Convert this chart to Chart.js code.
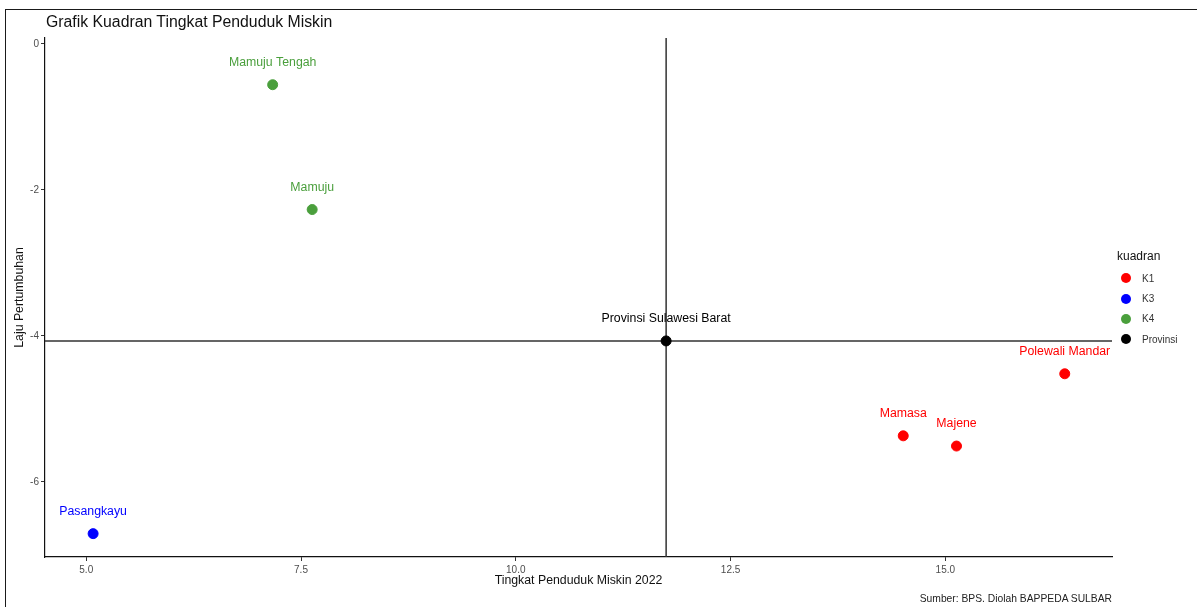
<!DOCTYPE html>
<html>
<head>
<meta charset="utf-8">
<script src="https://cdn.jsdelivr.net/npm/chart.js@4"></script>
<style>
    body { margin: 0; background: #fff; font-family: "Liberation Sans", Arial, sans-serif; }
    #wrap { position: relative; width: 1197px; height: 607px; overflow: hidden; }
    #frame { position: absolute; left: 5px; top: 9px; width: 1200px; height: 610px;
             border-top: 1.5px solid #1a1a1a; border-left: 1.5px solid #1a1a1a; pointer-events: none; }
    #judul { position: absolute; left: 46px; top: 13px; font-size: 15.8px; color: #111; }
    #sumber { position: absolute; right: 85px; top: 593px; font-size: 10.3px; color: #222; }
    #legenda { position: absolute; left: 1117px; top: 249px; font-size: 10px; color: #333; }
    #legenda .judul { font-size: 12px; color: #111; margin-bottom: 5px; }
    #legenda .item { height: 20.4px; display: flex; align-items: center; }
    #legenda .dot { width: 10px; height: 10px; border-radius: 50%; margin: 0 11px 0 4px; }
</style>
</head>
<body>
<div id="wrap">
    <canvas id="kuadranChart" width="1197" height="607"></canvas>
    <div id="frame"></div>
    <div id="judul">Grafik Kuadran Tingkat Penduduk Miskin</div>
    <div id="sumber">Sumber: BPS. Diolah BAPPEDA SULBAR</div>
    <div id="legenda"></div>
</div>
<script>
// data
const wilayah = ['Mamuju Tengah', 'Mamuju', 'Provinsi Sulawesi Barat', 'Polewali Mandar', 'Mamasa', 'Majene', 'Pasangkayu'];
const miskin2022 = [7.17, 7.63, 11.75, 16.39, 14.51, 15.13, 5.08];
const lajuTumbuh = [-0.56, -2.27, -4.07, -4.52, -5.37, -5.51, -6.71];
const kuadranWilayah = ['K4', 'K4', 'Provinsi', 'K1', 'K1', 'K1', 'K3'];

const kelompok = ['K1', 'K3', 'K4', 'Provinsi'];
const warnaKelompok = ['#ff0000', '#0000ff', '#4a9f3c', '#000000'];

const xTicks = [5, 7.5, 10, 12.5, 15];
const yTicks = [0, -2, -4, -6];

const FONT = '"Liberation Sans", Arial, sans-serif';

// garis kuadran lewat titik provinsi
const idxProv = kuadranWilayah.indexOf('Provinsi');
const garisX = miskin2022[idxProv];
const garisY = lajuTumbuh[idxProv];

const datasets = kelompok.map((k, i) => ({
    label: k,
    data: wilayah
        .map((w, j) => ({ x: miskin2022[j], y: lajuTumbuh[j], nama: w, k: kuadranWilayah[j] }))
        .filter(p => p.k === k),
    backgroundColor: warnaKelompok[i],
    borderColor: warnaKelompok[i],
    pointRadius: 5,
    pointHoverRadius: 5
}));

// legenda
const legenda = document.getElementById('legenda');
legenda.innerHTML = '<div class="judul">kuadran</div>' + kelompok.map((k, i) =>
    `<div class="item"><span class="dot" style="background:${warnaKelompok[i]}"></span>${k}</div>`).join('');

const garisKuadran = {
    id: 'garisKuadran',
    beforeDatasetsDraw(chart) {
        const { ctx, chartArea, scales } = chart;
        const px = scales.x.getPixelForValue(garisX);
        const py = scales.y.getPixelForValue(garisY);
        ctx.save();
        ctx.strokeStyle = '#333';
        ctx.lineWidth = 1.5;
        ctx.beginPath();
        ctx.moveTo(px, chartArea.top);
        ctx.lineTo(px, chartArea.bottom);
        ctx.moveTo(chartArea.left, py);
        ctx.lineTo(chartArea.right, py);
        ctx.stroke();
        ctx.restore();
    }
};

const labelTitik = {
    id: 'labelTitik',
    afterDatasetsDraw(chart) {
        const ctx = chart.ctx;
        ctx.save();
        ctx.font = '12.3px ' + FONT;
        ctx.textAlign = 'center';
        ctx.textBaseline = 'middle';
        chart.data.datasets.forEach((ds, i) => {
            const meta = chart.getDatasetMeta(i);
            meta.data.forEach((el, j) => {
                ctx.fillStyle = ds.backgroundColor;
                ctx.fillText(ds.data[j].nama, el.x, el.y - 22);
            });
        });
        ctx.restore();
    }
};

new Chart(document.getElementById('kuadranChart').getContext('2d'), {
    type: 'scatter',
    data: { datasets: datasets },
    plugins: [garisKuadran, labelTitik],
    options: {
        responsive: false,
        animation: false,
        events: [],
        layout: { padding: { left: 7, top: 38, right: 85, bottom: 17 } },
        plugins: {
            legend: { display: false },
            tooltip: { enabled: false }
        },
        scales: {
            x: {
                type: 'linear',
                min: 4.52,
                max: 16.94,
                afterBuildTicks: s => { s.ticks = xTicks.map(v => ({ value: v })); },
                afterFit: s => { s.height = 33; },
                ticks: {
                    callback: v => v.toFixed(1),
                    color: '#4d4d4d',
                    font: { size: 10, family: FONT },
                    padding: 3
                },
                grid: { drawOnChartArea: false, tickLength: 4, color: '#333' },
                border: { color: '#111', width: 1.2 },
                title: {
                    display: true,
                    text: 'Tingkat Penduduk Miskin 2022',
                    color: '#111',
                    font: { size: 12.3, family: FONT },
                    padding: { top: 0, bottom: 2 }
                }
            },
            y: {
                type: 'linear',
                min: -7.03,
                max: 0.08,
                afterBuildTicks: s => { s.ticks = yTicks.map(v => ({ value: v })); },
                afterFit: s => { s.width = 38; },
                ticks: {
                    callback: v => String(v),
                    color: '#4d4d4d',
                    font: { size: 10, family: FONT },
                    padding: 2
                },
                grid: { drawOnChartArea: false, tickLength: 4, color: '#333' },
                border: { color: '#111', width: 1.2 },
                title: {
                    display: true,
                    text: 'Laju Pertumbuhan',
                    color: '#111',
                    font: { size: 12.3, family: FONT },
                    padding: { top: 5, bottom: 0 }
                }
            }
        }
    }
});
</script>
</body>
</html>
